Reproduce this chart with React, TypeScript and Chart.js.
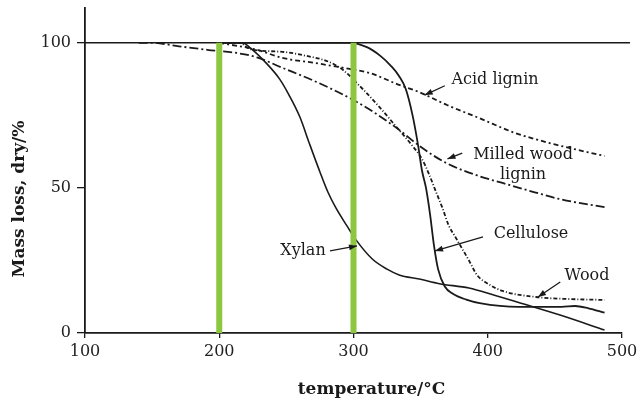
import { useEffect, useRef } from "react";
import { Chart, registerables } from "chart.js";
Chart.register(...registerables);

// Axis ticks
const xTickValues = [100, 200, 300, 400, 500];
const yTickValues = [0, 50, 100];

// Series (temperature °C, mass %)
const celluloseT = [200, 297, 310, 320, 328, 334, 339, 344, 348, 351, 354, 357, 360, 363, 368, 374, 384, 394, 423, 445, 455, 465, 475, 487];
const celluloseM = [100, 100, 98.5, 95.5, 92, 88.5, 84, 75, 65, 56, 50, 41, 30, 22, 16, 13.5, 11.5, 10.3, 9, 9, 9, 9.3, 8.5, 7];

const xylanT = [200, 217, 225, 235, 245, 252, 260, 267, 275, 281, 287, 295, 302, 314, 325, 334, 349, 364, 386, 405, 423, 455, 487];
const xylanM = [100, 100, 97.5, 93, 87.5, 82, 74.5, 65.5, 55.5, 48.5, 43, 37, 32, 25.5, 22, 20, 18.6, 17, 15.5, 13, 10.5, 6, 1];

const woodT = [200, 215, 223, 247, 265, 282, 292, 307, 320, 332, 343, 351, 356, 362, 366, 371, 376, 386, 392, 400, 411, 436, 461, 487];
const woodM = [100, 100, 97.8, 96.9, 95.5, 93.4, 90.7, 84, 77.5, 71, 65, 60, 55, 48, 43.4, 37, 33, 25, 20, 17, 14.5, 12.4, 11.7, 11.4];

const acidLigninT = [200, 228, 247, 272, 297, 312, 334, 349, 370, 394, 420, 450, 487];
const acidLigninM = [100, 97.6, 94.8, 93, 91, 89.6, 85.5, 83, 78.5, 74, 69, 65, 61];

const milledLigninT = [140, 150, 170, 191, 213, 228, 247, 272, 297, 312, 334, 349, 369, 394, 411, 435, 455, 487];
const milledLigninM = [100, 100, 98.8, 97.6, 96.5, 95, 91.4, 86.6, 81, 77, 70, 64.5, 58.6, 54, 51.7, 48.5, 46, 43.4];

// Reference line at 100 %
const refLineT = [100, 506];
const refLineM = [100, 100];

// Green marker lines
const markerTemps = [200, 300];
const markerRange = [0, 100];

// Annotations
const annTexts = ["Acid lignin", "Milled wood\nlignin", "Cellulose", "Wood", "Xylan"];
const annX = [405.4, 426.3, 432.2, 473.9, 262.4];
const annY = [87.2, 58, 34.1, 19.7, 28.3];
const arrowFromX = [368, 381, 396.5, 454, 282.5];
const arrowFromY = [85.2, 62, 33.1, 17.6, 28.3];
const arrowToX = [353, 370, 360.7, 437.4, 302.6];
const arrowToY = [82, 60, 28.3, 12.4, 30];

const xTitle = "temperature/°C";
const yTitle = "Mass loss, dry/%";

const pts = (t: number[], m: number[]) => t.map((v, i) => ({ x: v, y: m[i] }));

const INK = "#1a1a1a";
const GREEN = "#8dc63f";

const overlay = {
  id: "overlay",
  afterDraw(chart: any) {
    const { ctx, scales } = chart;
    const xs = scales.x;
    const ys = scales.y;
    ctx.save();
    ctx.fillStyle = INK;
    ctx.strokeStyle = INK;
    ctx.lineWidth = 1.3;
    ctx.font = '16px "DejaVu Serif"';
    ctx.textAlign = "center";
    ctx.textBaseline = "middle";
    annTexts.forEach((t, i) => {
      const lines = t.split("\n");
      const cx = xs.getPixelForValue(annX[i]);
      const cy = ys.getPixelForValue(annY[i]);
      lines.forEach((ln, j) => {
        ctx.fillText(ln, cx, cy + (j - (lines.length - 1) / 2) * 20);
      });
      const x1 = xs.getPixelForValue(arrowFromX[i]);
      const y1 = ys.getPixelForValue(arrowFromY[i]);
      const x2 = xs.getPixelForValue(arrowToX[i]);
      const y2 = ys.getPixelForValue(arrowToY[i]);
      ctx.beginPath();
      ctx.moveTo(x1, y1);
      ctx.lineTo(x2, y2);
      ctx.stroke();
      const a = Math.atan2(y2 - y1, x2 - x1);
      const L = 8, W = 3;
      ctx.beginPath();
      ctx.moveTo(x2, y2);
      ctx.lineTo(x2 - L * Math.cos(a) + W * Math.sin(a), y2 - L * Math.sin(a) - W * Math.cos(a));
      ctx.lineTo(x2 - L * Math.cos(a) - W * Math.sin(a), y2 - L * Math.sin(a) + W * Math.cos(a));
      ctx.closePath();
      ctx.fill();
    });
    ctx.font = 'bold 17px "DejaVu Serif"';
    ctx.fillText(xTitle, (chart.chartArea.left + chart.chartArea.right) / 2 + 18, 390);
    ctx.translate(20, 199);
    ctx.rotate(-Math.PI / 2);
    ctx.fillText(yTitle, 0, 0);
    ctx.restore();
  },
};

export default function App() {
  const ref = useRef<HTMLCanvasElement>(null);
  useEffect(() => {
    if (!ref.current) return;
    const line = (label: string, t: number[], m: number[], dash: number[], width = 1.8) => ({
      label,
      data: pts(t, m),
      borderColor: INK,
      borderWidth: width,
      borderDash: dash,
      pointRadius: 0,
      fill: false,
      cubicInterpolationMode: "monotone" as const,
    });
    const chart = new Chart(ref.current, {
      type: "line",
      data: {
        datasets: [
          ...markerTemps.map((t) => ({
            label: "marker " + t,
            data: markerRange.map((v) => ({ x: t, y: v })),
            borderColor: GREEN,
            borderWidth: 6,
            pointRadius: 0,
            fill: false,
          })),
          line("Cellulose", celluloseT, celluloseM, []),
          line("Xylan", xylanT, xylanM, [], 1.6),
          line("Wood", woodT, woodM, [4, 2, 1, 2]),
          line("Acid lignin", acidLigninT, acidLigninM, [5, 3, 2, 3]),
          line("Milled wood lignin", milledLigninT, milledLigninM, [9, 3, 2, 3]),
          { ...line("ref", refLineT, refLineM, [], 1.6), clip: false as any },
        ],
      },
      options: {
        responsive: false,
        animation: false,
        parsing: true,
        layout: { padding: { top: 8, right: 21, left: 0, bottom: 0 } },
        plugins: { legend: { display: false }, tooltip: { enabled: false }, title: { display: false } },
        scales: {
          x: {
            type: "linear",
            min: 100,
            max: 500,
            afterBuildTicks: (s: any) => {
              s.ticks = xTickValues.map((v) => ({ value: v }));
            },
            afterFit: (s: any) => {
              s.height = 72;
              s.paddingLeft = 0;
              s.paddingRight = 0;
            },
            ticks: { color: "#222", font: { family: "DejaVu Serif", size: 16 }, padding: 4 },
            grid: { drawOnChartArea: false, drawTicks: true, tickLength: 5, color: INK, lineWidth: 1.3 },
            border: { display: true, color: INK, width: 1.8 },
          },
          y: {
            type: "linear",
            min: 0,
            max: 112,
            afterBuildTicks: (s: any) => {
              s.ticks = yTickValues.map((v) => ({ value: v }));
            },
            afterFit: (s: any) => {
              s.width = 85;
              s.paddingTop = 0;
              s.paddingBottom = 0;
            },
            ticks: { color: "#222", font: { family: "DejaVu Serif", size: 16 }, padding: 6 },
            grid: { drawOnChartArea: false, drawTicks: true, tickLength: 8, color: INK, lineWidth: 1.3 },
            border: { display: true, color: INK, width: 1.8 },
          },
        },
      },
      plugins: [overlay],
    });
    return () => chart.destroy();
  }, []);
  return (
    <div style={{ position: "absolute", left: 0, top: 0, width: 643, height: 405, background: "#fff" }}>
      <canvas ref={ref} width={643} height={405} />
    </div>
  );
}
